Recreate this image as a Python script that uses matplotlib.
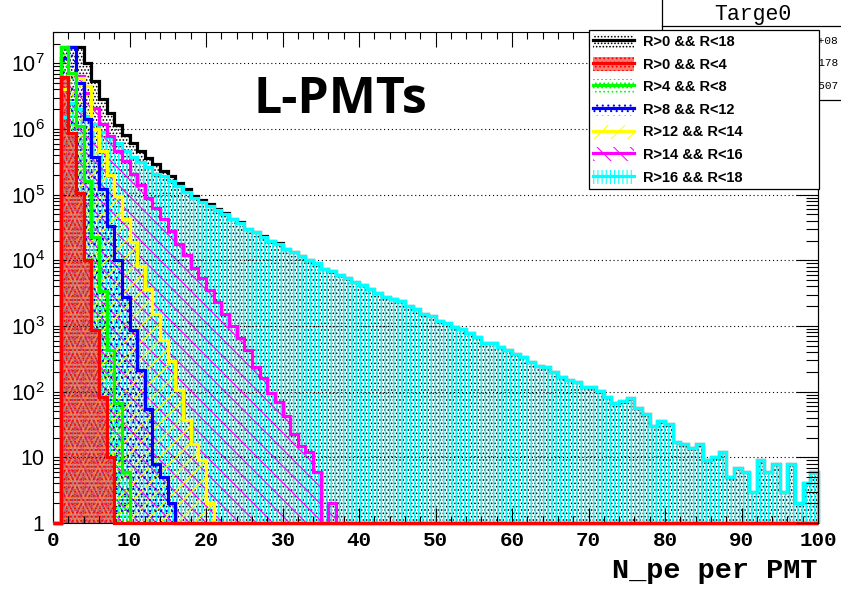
import numpy as np
import matplotlib
matplotlib.use("Agg")
import matplotlib.pyplot as plt
from matplotlib.patches import Patch, Rectangle
from matplotlib.lines import Line2D
from matplotlib.ticker import LogLocator, MultipleLocator, NullFormatter

plt.rcParams['hatch.linewidth'] = 0.75
plt.rcParams['mathtext.fontset'] = 'custom'
plt.rcParams['mathtext.rm'] = 'Liberation Sans'

# N_pe histograms, bins of width 1 from 0 to 100.  Each list starts at bin 1
# (bin 0 is empty for every radius cut).
n_bins = 100

counts_r0_18_head = [1.8e7, 1.8e7, 1.8e7, 1.0e7, 5.3e6, 2.9e6, 1.75e6, 1.15e6, 8.2e5, 6.1e5,
                     4.6e5, 3.6e5, 2.9e5, 2.3e5, 1.9e5, 1.5e5, 1.2e5, 9.7e4, 8.4e4, 7.2e4,
                     6.1e4, 5.2e4, 4.3e4, 3.8e4, 3.05e4, 2.72e4, 2.32e4, 2.0e4, 1.81e4]
counts_r0_4 = [6.3e6, 8.7e5, 1.07e5, 1.0e4, 880, 82, 10]
counts_r4_8 = [1.8e7, 7.2e6, 1.1e6, 1.6e5, 2.3e4, 3.4e3, 435, 68, 6]
counts_r8_12 = [1.2e7, 1.8e7, 5.0e6, 1.4e6, 3.8e5, 1.2e5, 3.3e4, 1.0e4, 2.8e3, 870,
                215, 54, 8, 5, 2]
counts_r12_14 = [4e6, 7e6, 6e6, 4.5e6, 1.0e6, 4.7e5, 2.0e5, 9.4e4, 4.2e4, 1.9e4,
                 8.3e3, 3.6e3, 1.5e3, 620, 290, 107, 37, 16, 9, 2]
counts_r14_16 = [4e6, 7e6, 6.5e6, 3.5e6, 2.1e6, 1.2e6, 7.8e5, 4.6e5, 3.2e5, 2.1e5,
                 1.4e5, 8.9e4, 6.3e4, 4.2e4, 2.8e4, 1.8e4, 1.2e4, 7.6e3, 5.4e3, 3.5e3,
                 2.3e3, 1.55e3, 1.0e3, 655, 435, 240, 160, 95, 70, 42,
                 23, 15, 12, 6, 0, 2]
counts_r16_18 = [1.5e6, 2.5e6, 2.0e6, 1.6e6, 1.2e6, 9e5, 7.5e5, 6.1e5, 4.6e5, 3.8e5,
                 3.1e5, 2.6e5, 2.1e5, 1.9e5, 1.6e5, 1.35e5, 1.1e5, 8.9e4, 7.8e4, 6.8e4,
                 5.9e4, 5.0e4, 4.2e4, 3.7e4, 3.0e4, 2.7e4, 2.3e4, 2.0e4, 1.8e4, 1.5e4,
                 1.35e4, 1.15e4, 1.0e4, 9.1e3, 7.5e3, 7.0e3, 6.0e3, 5.3e3, 4.6e3, 4.2e3,
                 3.7e3, 3.2e3, 2.8e3, 2.6e3, 2.4e3, 2.0e3, 1.8e3, 1.55e3, 1.4e3, 1.2e3,
                 1.1e3, 960, 900, 780, 675, 560, 550, 475, 430, 380,
                 336, 282, 247, 236, 198, 170, 151, 142, 117, 117,
                 104, 84, 68, 71, 80, 56, 46, 30, 36, 32,
                 17, 16, 14, 16, 9, 10, 12, 5, 7, 6,
                 3, 9, 6, 8, 3, 8, 2, 4, 6]
# beyond bin 30 the full volume is the outer shell alone
counts_r0_18 = counts_r0_18_head + counts_r16_18[len(counts_r0_18_head):]

labels = ["R>0 && R<18", "R>0 && R<4", "R>4 && R<8", "R>8 && R<12",
          "R>12 && R<14", "R>14 && R<16", "R>16 && R<18"]
x_ticks = list(range(0, 101, 10))
y_ticks = [1, 10, 1e2, 1e3, 1e4, 1e5, 1e6, 1e7]
y_tick_labels = ["1", "10"] + [r"$\mathregular{10^{%d}}$" % k for k in range(2, 8)]
stat_values = ["1.336e+08", "2.178", "1.507"]


def fill_bins(vals):
    h = np.zeros(n_bins)
    h[1:1 + len(vals)] = vals
    return h


edges = np.arange(n_bins + 1)
series = [
    # label, counts, line colour, hatch, face, hatch width
    (labels[0], counts_r0_18, "black", ".....", "none", 0.75),
    (labels[1], counts_r0_4, "red", "....", (0.95, 0.3, 0.25, 0.72), 0.75),
    (labels[2], counts_r4_8, "#00ff00", "....", "none", 0.75),
    (labels[3], counts_r8_12, "blue", "...", "none", 0.75),
    (labels[4], counts_r12_14, "#ffff00", "//", "none", 0.9),
    (labels[5], counts_r14_16, "#ff00ff", "\\\\", "none", 0.8),
    (labels[6], counts_r16_18, "#00ffff", "||||", "none", 1.1),
]
# drawing order: total first, then outer to inner shells, red on top
draw_order = [0, 6, 5, 4, 3, 2, 1]

fig = plt.figure(figsize=(8.41, 5.89), dpi=100)
ax = fig.add_axes([53 / 841, 1 - 523 / 589, 765 / 841, 491 / 589])
ax.set_yscale("log")
ax.set_xlim(0, 100)
ax.set_ylim(1, 3.0e7)

for k, idx in enumerate(draw_order):
    lab, vals, col, hatch, face, hlw = series[idx]
    h = np.maximum(fill_bins(vals), 1)
    p = ax.stairs(h, edges, baseline=1, fill=True, facecolor=face, edgecolor=col,
                  hatch=hatch, linewidth=0, zorder=1 + 0.05 * k)
    if hasattr(p, "set_hatch_linewidth"):
        p.set_hatch_linewidth(hlw)
for k, idx in enumerate(draw_order):
    lab, vals, col, hatch, face, hlw = series[idx]
    h = np.maximum(fill_bins(vals), 1)
    ax.stairs(h, edges, baseline=1, fill=False, color=col, linewidth=2.3,
              zorder=3 + 0.1 * k, clip_on=False)

ax.grid(True, axis="y", which="major", color="black", linestyle=(0, (1, 2.5)), linewidth=0.8)

ax.set_xticks(x_ticks, [str(v) for v in x_ticks], fontfamily="Liberation Mono",
              fontweight="bold", fontsize=15)
ax.xaxis.set_minor_locator(MultipleLocator(2))
ax.set_yticks(y_ticks, y_tick_labels, fontfamily="Liberation Sans", fontsize=15.5)
ax.yaxis.set_minor_locator(LogLocator(base=10, subs=np.arange(2, 10), numticks=20))
ax.yaxis.set_minor_formatter(NullFormatter())
ax.tick_params(axis="x", which="both", direction="in", top=True, width=0.8, pad=6)
ax.tick_params(axis="x", which="major", length=11)
ax.tick_params(axis="x", which="minor", length=5)
ax.tick_params(axis="y", which="both", direction="in", right=False, width=0.8, pad=6)
ax.tick_params(axis="y", which="major", length=9)
ax.tick_params(axis="y", which="minor", length=5)
for s in ax.spines.values():
    s.set_linewidth(0.8)

# right-hand ticks are drawn longer
ax_r = ax.twinx()
ax_r.set_yscale("log")
ax_r.set_ylim(ax.get_ylim())
ax_r.set_yticks(y_ticks, [])
ax_r.yaxis.set_minor_locator(LogLocator(base=10, subs=np.arange(2, 10), numticks=20))
ax_r.yaxis.set_minor_formatter(NullFormatter())
ax_r.tick_params(axis="y", which="both", direction="in", width=0.8)
ax_r.tick_params(axis="y", which="major", length=16)
ax_r.tick_params(axis="y", which="minor", length=9)
for s in ["top", "bottom", "left"]:
    ax_r.spines[s].set_visible(False)
ax_r.spines["right"].set_linewidth(0.8)

fig.text(818 / 841, 1 - 578 / 589, "N_pe per PMT", ha="right", va="baseline",
         fontfamily="Liberation Mono", fontweight="bold", fontsize=20.5)
fig.text(253 / 841, 1 - 113 / 589, "L-PMTs", ha="left", va="baseline",
         fontfamily="Open Sans", fontweight="bold", fontsize=36)

# statistics box, mostly hidden behind the legend
fig.add_artist(Rectangle((662 / 841, 1 - 100 / 589), 0.3, 0.3, transform=fig.transFigure,
                         facecolor="white", edgecolor="black", linewidth=0.9, zorder=4))
fig.add_artist(Line2D([662 / 841, 1.0], [1 - 26 / 589] * 2, transform=fig.transFigure,
                      color="black", linewidth=0.9, zorder=4.1))
fig.text(753 / 841, 1 - 20 / 589, "Targe0", ha="center", va="baseline",
         fontfamily="Liberation Mono", fontsize=15.5, zorder=4.2)
for i, val in enumerate(stat_values):
    fig.text(838 / 841, 1 - (41 + 22.5 * i) / 589, val, ha="right", va="center",
             fontfamily="Liberation Mono", fontsize=8, zorder=4.2)

handles = []
for lab, vals, col, hatch, face, hlw in series:
    handles.append((Patch(facecolor=face, edgecolor=col, hatch=hatch, linewidth=0),
                    Line2D([], [], color=col, linewidth=2.3)))
leg = fig.legend(handles, labels, loc="upper left",
                 bbox_to_anchor=(589 / 841, 1 - 186 / 589, 230 / 841, 156 / 589),
                 mode="expand", borderaxespad=0, fancybox=False, framealpha=1,
                 edgecolor="black", handlelength=2.8, handleheight=1.1,
                 handletextpad=0.6, labelspacing=0.52, borderpad=0.3,
                 prop={"family": "Liberation Sans", "weight": "bold", "size": 10.5})
leg.set_zorder(6)
leg.get_frame().set_linewidth(0.9)

fig.savefig("out.png", dpi=100)
